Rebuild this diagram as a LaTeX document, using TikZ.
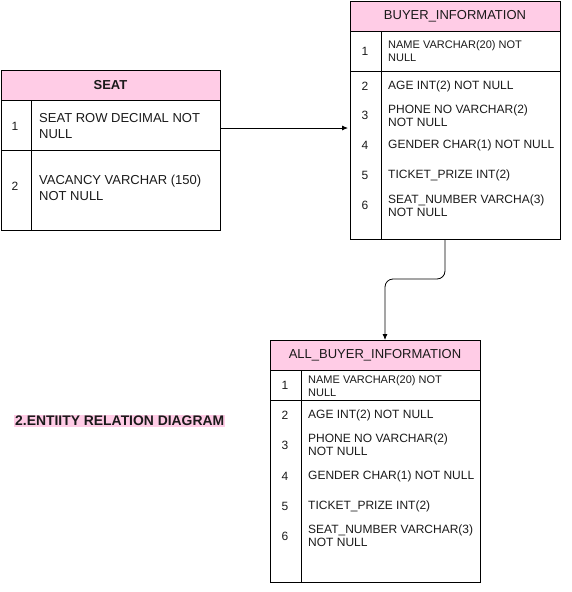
\documentclass[tikz,border=0pt]{standalone}
\usepackage{fontspec}
\setmainfont{Liberation Sans}
\usetikzlibrary{arrows.meta}
\definecolor{hdrpink}{HTML}{FFCCE6}
\definecolor{txt}{HTML}{1A1A1A}
\begin{document}
\begin{tikzpicture}[x=1pt,y=-1pt,
  box/.style={draw=black, line width=0.8pt, inner sep=0pt, outer sep=0pt, anchor=north west},
  hdr/.style={box, fill=hdrpink, text=txt, font=\fontsize{13}{15}\selectfont},
  num/.style={inner sep=0pt, anchor=center, text=txt, font=\fontsize{12}{13}\selectfont},
  fld/.style={inner sep=0pt, anchor=west, align=left, text=txt, font=\fontsize{12}{13}\selectfont},
  smallfld/.style={fld, font=\fontsize{11}{13}\selectfont},
  bignum/.style={num, font=\fontsize{12}{14}\selectfont},
  bigfld/.style={fld, font=\fontsize{13}{16}\selectfont},
  divider/.style={draw=black, line width=0.8pt},
  conn/.style={draw=black, line width=0.8pt, -{Latex[length=6pt,width=5pt]}}]
\useasboundingbox (0,0) rectangle (572,592);

% ---------- SEAT ----------
\node[hdr, minimum width=219pt, minimum height=30pt, font=\fontsize{13}{15}\selectfont\bfseries] (seathdr) at (1,70) {SEAT};
\node[box, minimum width=219pt, minimum height=50pt] (seatr1) at (1,100) {};
\node[box, minimum width=219pt, minimum height=80pt] (seatr2) at (1,150) {};
\draw[divider] ([xshift=30pt]seatr1.north west) -- ([xshift=30pt]seatr2.south west);
\node[bignum] (sn1) at (15,126) {1};
\node[bigfld] (sf1) at (39,126) {SEAT ROW DECIMAL NOT\\NULL};
\node[bignum] (sn2) at (15,186) {2};
\node[bigfld] (sf2) at (39,188) {VACANCY VARCHAR (150)\\NOT NULL};

% ---------- BUYER_INFORMATION ----------
\node[hdr, minimum width=210pt, minimum height=30pt] (bhdr) at (350,1) {BUYER\_INFORMATION};
\node[box, minimum width=210pt, minimum height=40pt] (br1) at (350,31) {};
\node[box, minimum width=210pt, minimum height=168pt] (brest) at (350,71) {};
\draw[divider] ([xshift=31pt]br1.north west) -- ([xshift=31pt]brest.south west);
\node[num] (bn1) at (365,51) {1};
\node[smallfld] (bf1) at (388,51) {NAME VARCHAR(20) NOT\\NULL};
\node[num] (bn2) at (365,86) {2};
\node[fld] (bf2) at (388,86) {AGE INT(2) NOT NULL};
\node[num] (bn3) at (365,115) {3};
\node[fld] (bf3) at (388,116) {PHONE NO VARCHAR(2)\\NOT NULL};
\node[num] (bn4) at (365,145) {4};
\node[fld] (bf4) at (388,145) {GENDER CHAR(1) NOT NULL};
\node[num] (bn5) at (365,175) {5};
\node[fld] (bf5) at (388,175) {TICKET\_PRIZE INT(2)};
\node[num] (bn6) at (365,205) {6};
\node[fld] (bf6) at (388,206) {SEAT\_NUMBER VARCHA(3)\\NOT NULL};

% ---------- ALL_BUYER_INFORMATION ----------
\node[hdr, minimum width=210pt, minimum height=30pt] (ahdr) at (270,340) {ALL\_BUYER\_INFORMATION};
\node[box, minimum width=210pt, minimum height=30pt] (ar1) at (270,370) {};
\node[box, minimum width=210pt, minimum height=182pt] (arest) at (270,400) {};
\draw[divider] ([xshift=31pt]ar1.north west) -- ([xshift=31pt]arest.south west);
\node[num] (an1) at (285,385) {1};
\node[smallfld] (af1) at (308,386) {NAME VARCHAR(20) NOT\\NULL};
\node[num] (an2) at (285,415) {2};
\node[fld] (af2) at (308,415) {AGE INT(2) NOT NULL};
\node[num] (an3) at (285,445) {3};
\node[fld] (af3) at (308,445) {PHONE NO VARCHAR(2)\\NOT NULL};
\node[num] (an4) at (285,476) {4};
\node[fld] (af4) at (308,476) {GENDER CHAR(1) NOT NULL};
\node[num] (an5) at (285,506) {5};
\node[fld] (af5) at (308,506) {TICKET\_PRIZE INT(2)};
\node[num] (an6) at (285,536) {6};
\node[fld] (af6) at (308,536) {SEAT\_NUMBER VARCHAR(3)\\NOT NULL};

% ---------- label ----------
\node[fill=hdrpink, inner xsep=1pt, inner ysep=1.5pt, anchor=west, text=txt,
      font=\fontsize{13.9}{16}\selectfont\bfseries] (title) at (14,421) {2.ENTIITY RELATION DIAGRAM};

% ---------- connectors ----------
\coordinate (c1s) at (220,128);
\draw[conn] (c1s) -- ([xshift=-2pt]brest.west |- c1s);
\coordinate (c2s) at (445,239);
\coordinate (c2e) at (385,340);
\draw[conn, rounded corners=8pt] (c2s) -- (445,279) -- (385,279) -- (c2e);
\end{tikzpicture}
\end{document}
